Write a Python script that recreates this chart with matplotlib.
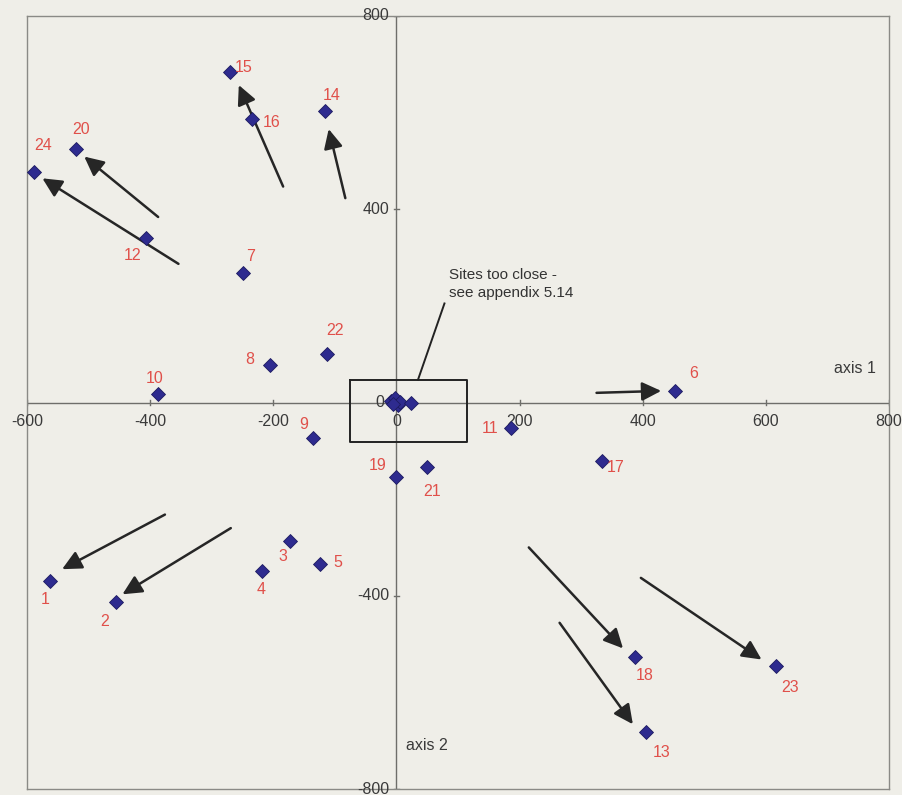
import matplotlib
matplotlib.use("Agg")
import matplotlib.pyplot as plt

plt.rcParams['font.family'] = ['Liberation Sans', 'DejaVu Sans']

# Site scores on the first two ordination axes
sites = ['1', '2', '3', '4', '5', '6', '7', '8', '9', '10', '11', '12',
         '13', '14', '15', '16', '17', '18', '19', '20', '21', '22', '23', '24']
axis1 = [-563, -456, -173, -219, -124, 453, -249, -205, -136, -387, 186, -407,
         406, -116, -271, -234, 334, 387, 0, -520, 49, -113, 616, -588]
axis2 = [-370, -412, -287, -348, -335, 24, 269, 78, -73, 17, -53, 341,
         -683, 604, 684, 586, -122, -526, -154, 524, -133, 100, -546, 477]
# label offsets (pixels) for each site number
label_dx = [-5, -11, -7, 0, 18, 18, 7, -20, -9, -4, -21, -13,
            15, 7, 14, 19, 14, 10, -19, 5, 5, 8, 14, 9]
label_dy = [-18, -20, -15, -19, 2, 17, 16, 5, 13, 16, 0, -18,
            -20, 15, 5, -3, -6, -19, 11, 20, -25, 24, -21, 27]

# unlabelled sites lying close to the origin
cluster_x = [-9, -3, 2, 5, -6, 24]
cluster_y = [3, 9, -6, 2, -3, 0]

# direction-of-change arrows (start -> end)
arrow_x0 = [-354, -387, -184, -83, 325, -376, -269, 215, 397, 265]
arrow_y0 = [287, 384, 447, 423, 20, -232, -260, -300, -363, -456]
arrow_x1 = [-575, -507, -256, -110, 430, -543, -445, 368, 593, 384]
arrow_y1 = [464, 509, 657, 566, 24, -345, -397, -509, -532, -666]

x_ticks = [-600, -400, -200, 0, 200, 400, 600, 800]
y_ticks = [800, 400, 0, -400, -800]

bg = '#efeee8'
fig = plt.figure(figsize=(9.02, 7.95), dpi=100, facecolor=bg)
ax = fig.add_axes([27 / 902, 1 - 789 / 795, 862 / 902, 773 / 795])
ax.set_facecolor(bg)
ax.set_xlim(-600, 800)
ax.set_ylim(-800, 800)
ax.set_xticks([])
ax.set_yticks([])
for s in ax.spines.values():
    s.set_color('#8a8a86')
    s.set_linewidth(1.0)

# axes through the origin
axcol = '#6e6e6a'
ax.axhline(0, color=axcol, lw=1.0, zorder=1)
ax.axvline(0, color=axcol, lw=1.0, zorder=1)

tick_font = dict(fontsize=11.5, color='#3a3a3a')
for t in x_ticks:
    ax.plot([t, t], [-6, 6], color=axcol, lw=1.0, zorder=1)
    ax.annotate(str(t), (t, 0), xytext=(0, -11), textcoords='offset pixels',
                ha='center', va='top', **tick_font)
for t in y_ticks:
    ax.plot([-4, 4], [t, t], color=axcol, lw=1.0, zorder=1)
    ax.annotate(str(t), (0, t), xytext=(-12 if t == 0 else -7, 0),
                textcoords='offset pixels', ha='right', va='center', **tick_font)

ax.text(745, 71, 'axis 1', ha='center', va='center', fontsize=11.5, color='#3a3a3a')
ax.text(50, -709, 'axis 2', ha='center', va='center', fontsize=11.5, color='#3a3a3a')

# arrows
for x0, y0, x1, y1 in zip(arrow_x0, arrow_y0, arrow_x1, arrow_y1):
    ax.annotate('', xy=(x1, y1), xytext=(x0, y0),
                arrowprops=dict(arrowstyle='-|>,head_length=0.45,head_width=0.22',
                                color='#262626', lw=1.8,
                                mutation_scale=26, shrinkA=0, shrinkB=0),
                zorder=3)

# site markers
mcol = '#2e2b8f'
ax.plot(axis1, axis2, 'D', ms=7, color=mcol, mec='#1d1b60', mew=0.6,
        linestyle='none', zorder=4)
ax.plot(cluster_x, cluster_y, 'D', ms=7.5, color=mcol, mec='#1d1b60', mew=0.6,
        linestyle='none', zorder=4)

for name, x, y, dx, dy in zip(sites, axis1, axis2, label_dx, label_dy):
    ax.annotate(name, (x, y), xytext=(dx, dy), textcoords='offset pixels',
                ha='center', va='center', fontsize=11.5, color='#e0504a', zorder=5)

# callout box for the overlapping sites
ax.plot([-76, 114, 114, -76, -76], [47, 47, -81, -81, 47], color='#222222', lw=1.4, zorder=2)
ax.plot([35, 78], [47, 205], color='#222222', lw=1.4, zorder=2)
ax.text(86, 278, 'Sites too close -\nsee appendix 5.14', ha='left', va='top',
        fontsize=11, color='#333333', linespacing=1.35)

fig.savefig('out.png', dpi=100, facecolor=bg)
